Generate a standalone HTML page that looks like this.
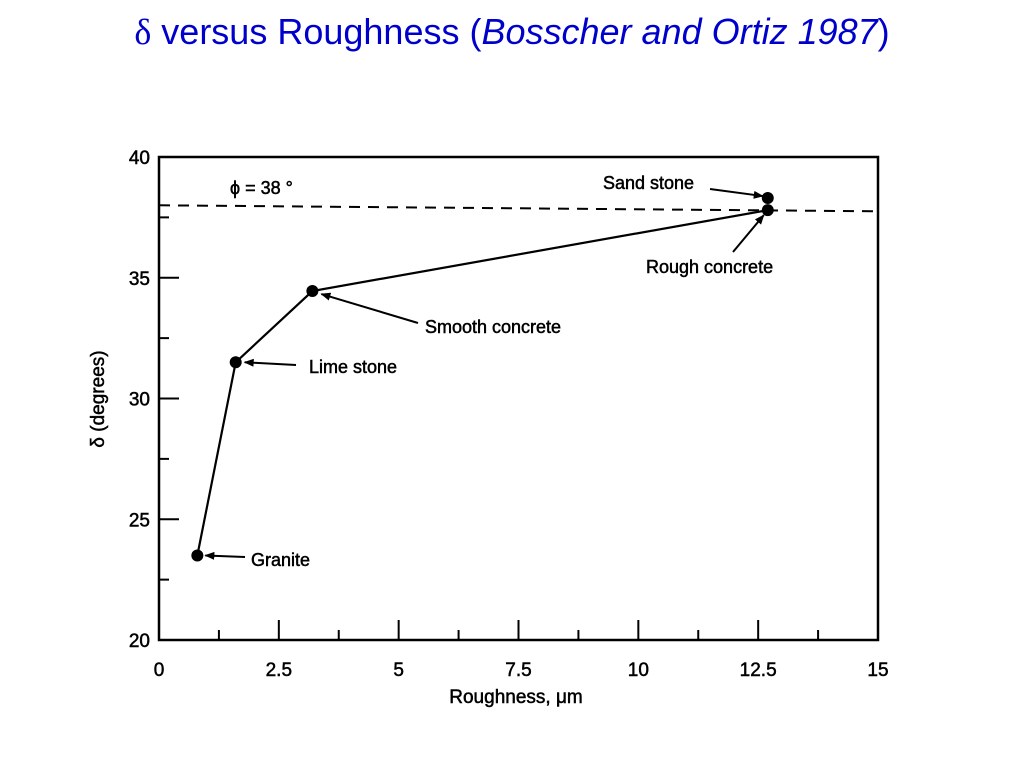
<!DOCTYPE html>
<html><head><meta charset="utf-8"><style>
body{margin:0;background:#fff;}
svg text{font-family:"Liberation Sans",sans-serif;}
</style></head><body>
<svg width="1024" height="768" viewBox="0 0 1024 768">
<text x="512" y="44" text-anchor="middle" font-size="36" fill="#0000cc"><tspan font-family="Liberation Serif">δ</tspan> versus Roughness (<tspan font-style="italic">Bosscher and Ortiz 1987</tspan>)</text>
<g id="plot"></g>
</svg>
<script>
const xTicks=[0,2.5,5,7.5,10,12.5,15];
const xTickLabels=["0","2.5","5","7.5","10","12.5","15"];
const yTicks=[20,25,30,35,40];
const yTickLabels=["20","25","30","35","40"];
const materials=["Granite","Lime stone","Smooth concrete","Rough concrete","Sand stone"];
const roughness=[0.8,1.6,3.2,12.7,12.7];
const delta=[23.5,31.5,34.45,37.8,38.3];
const phi=[38];

const L=159,R=878,T=157,B=640;
const sx=v=>L+(v-0)/15*(R-L);
const sy=v=>B-(v-20)/20*(B-T);
const g=document.getElementById('plot');
const NS='http://www.w3.org/2000/svg';
function mk(tag,attrs,name,parent){const e=document.createElementNS(NS,tag);for(const k in attrs)e.setAttribute(k,attrs[k]);


(parent||g).appendChild(e);return e;}
function txt(x,y,s,size,name,anchor){const t=mk('text',{x:x,y:y,'font-size':size,'text-anchor':anchor||'start',fill:'#000',stroke:'#000','stroke-width':0.5},name);t.textContent=s;return t;}

mk('rect',{x:L,y:T,width:R-L,height:B-T,fill:'none',stroke:'#000','stroke-width':2.5},'plot-frame');
for(let v=0;v<=15.001;v+=1.25){const major=Math.abs(v/2.5-Math.round(v/2.5))<1e-6;
mk('line',{x1:sx(v),x2:sx(v),y1:B,y2:B-(major?20:10),stroke:'#000','stroke-width':2},'x-tick');}
xTicks.forEach((v,i)=>txt(sx(v),676,xTickLabels[i],19,'x-tick-label','middle'));
for(let v=20;v<=40.001;v+=2.5){const major=v%5===0;
mk('line',{x1:L,x2:L+(major?20:10),y1:sy(v),y2:sy(v),stroke:'#000','stroke-width':2},'y-tick');}
yTicks.forEach((v,i)=>txt(150,sy(v)+7,yTickLabels[i],19,'y-tick-label','end'));
txt(516,703,'Roughness, μm',19,'x-axis-title','middle');
const yt=txt(0,0,'δ (degrees)',19,'y-axis-title','middle');yt.setAttribute('transform','translate(104,399) rotate(-90)');
mk('line',{x1:L,x2:R,y1:sy(phi[0]),y2:sy(phi[0])+6,stroke:'#000','stroke-width':2,'stroke-dasharray':'11,8'},'phi-line');
txt(230,194,'ϕ = 38 °',18,'phi-label');
const pts=[0,1,2,3].map(i=>sx(roughness[i])+','+sy(delta[i])).join(' ');
mk('polyline',{points:pts,fill:'none',stroke:'#000','stroke-width':2.2},'series-line');
roughness.forEach((r,i)=>{mk('circle',{cx:sx(r),cy:sy(delta[i]),r:6,fill:'#000'},'point-'+materials[i].toLowerCase().replace(' ','-'));});
const defs=mk('defs',{},'defs',document.querySelector('svg'));
const m=mk('marker',{id:'ah',markerWidth:10,markerHeight:8,refX:9,refY:4,orient:'auto',markerUnits:'userSpaceOnUse'},'arrowhead',defs);
mk('path',{d:'M0,0 L10,4 L0,8 Z',fill:'#000'},'arrowhead-shape',m);
function ann(i,lx,ly,tx,ty,label,ox,oy){
 const px=sx(roughness[i])+ox,py=sy(delta[i])+oy;
 mk('line',{x1:lx,y1:ly,x2:px,y2:py,stroke:'#000','stroke-width':2,'marker-end':'url(#ah)'},'annotation-arrow');
 txt(tx,ty,label,18,'annotation-label');}
ann(0,245,557,251,566,'Granite',8,0);
ann(1,296,365,309,373,'Lime stone',9,0);
ann(2,418,323,425,333,'Smooth concrete',9,3);
ann(4,710,189,603,189,'Sand stone',-5,-2);
ann(3,733,252,646,273,'Rough concrete',-4,5);
</script>
</body></html>
